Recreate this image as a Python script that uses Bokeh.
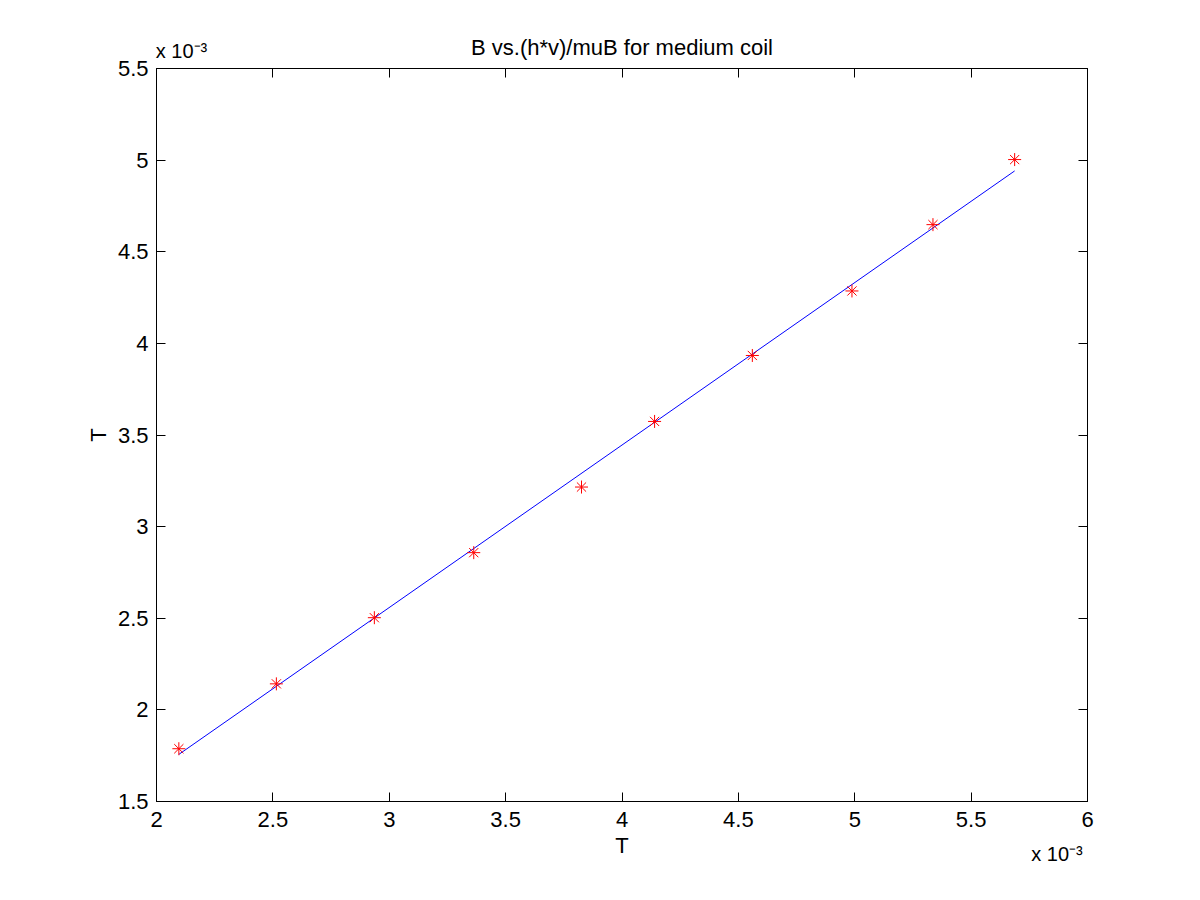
from bokeh.plotting import figure
from bokeh.models import Range1d, FixedTicker, LinearAxis, CustomJSTickFormatter
from bokeh.embed import file_html
from bokeh.resources import INLINE

# Data (values in units of 10^-3 T)
x_vals = [2.096, 2.515, 2.936, 3.363, 3.826, 4.140, 4.560, 4.988, 5.336, 5.687]
y_vals = [1.788, 2.142, 2.503, 2.858, 3.216, 3.574, 3.934, 4.286, 4.648, 5.003]
fit_x = [2.096, 5.687]
fit_y = [1.757, 4.941]

x_ticks = [2, 2.5, 3, 3.5, 4, 4.5, 5, 5.5, 6]
x_tick_labels = ["2", "2.5", "3", "3.5", "4", "4.5", "5", "5.5", "6"]
y_ticks = [1.5, 2, 2.5, 3, 3.5, 4, 4.5, 5, 5.5]
y_tick_labels = ["1.5", "2", "2.5", "3", "3.5", "4", "4.5", "5", "5.5"]

title_text = "B vs.(h*v)/muB for medium coil"
x_label = "T"
y_label = "T"
multiplier = "x 10\u207b\u00b3"
PAD_TOP = "\u00a0" * 9   # keeps the multiplier's visible text beside the axis corner
PAD_BOTTOM = "\u00a0" * 11

FONT = "Liberation Sans"
FS = "22px"

p = figure(width=1184, height=884, output_backend="svg", toolbar_location=None,
           x_range=Range1d(2, 6), y_range=Range1d(1.5, 5.5),
           min_border_left=156, min_border_right=97, min_border_top=68, min_border_bottom=83,
           background_fill_color="white", border_fill_color="white")

p.title.text = ""
p.title.standoff = 0

p.grid.visible = False
p.outline_line_color = "black"
p.outline_line_width = 1

def style_axis(ax, ticks, labels, show_labels=True):
    ax.ticker = FixedTicker(ticks=ticks)
    ax.major_label_overrides = {t: l for t, l in zip(ticks, labels)}
    ax.minor_tick_line_color = None
    ax.major_tick_in = 9
    ax.major_tick_out = 0
    ax.major_tick_line_color = "black"
    ax.axis_line_color = "black"
    ax.major_label_text_font = FONT
    ax.major_label_text_font_size = FS
    ax.major_label_text_color = "black"
    ax.major_label_standoff = 10
    ax.axis_label_text_font = FONT
    ax.axis_label_text_font_size = FS
    ax.axis_label_text_font_style = "normal"
    ax.axis_label_text_color = "black"
    if not show_labels:
        ax.formatter = CustomJSTickFormatter(code="return ''")
        ax.major_label_overrides = {}
        ax.major_label_standoff = 0
        ax.major_label_text_font_size = "1px"

style_axis(p.xaxis[0], x_ticks, x_tick_labels)
style_axis(p.yaxis[0], y_ticks, y_tick_labels)
p.xaxis[0].axis_label = x_label
p.yaxis[0].axis_label = y_label
p.xaxis[0].axis_label_standoff = 3
p.yaxis[0].major_label_standoff = 8
p.yaxis[0].axis_label_standoff = 4

# top axis: box ticks, carries the chart title
top_ax = LinearAxis()
style_axis(top_ax, x_ticks, x_tick_labels, show_labels=False)
top_ax.axis_label = title_text
top_ax.axis_label_standoff = 9
p.add_layout(top_ax, "above")

right_ax = LinearAxis()
style_axis(right_ax, y_ticks, y_tick_labels, show_labels=False)
p.add_layout(right_ax, "right")

def mult_axis(label, align, standoff, where):
    ax = LinearAxis()
    style_axis(ax, x_ticks, x_tick_labels, show_labels=False)
    ax.major_tick_in = 0
    ax.axis_line_color = None
    ax.major_tick_line_color = None
    ax.axis_label = label
    ax.axis_label_align = align
    ax.axis_label_standoff = standoff
    ax.axis_label_text_font_size = "20px"
    p.add_layout(ax, where)

mult_axis(PAD_TOP + multiplier, "start", -30, "above")
mult_axis(multiplier + PAD_BOTTOM, "end", -18, "below")

# fitted line and data
p.line(fit_x, fit_y, line_color="#0000ff", line_width=1)
p.scatter(x_vals, y_vals, marker="asterisk", size=13, line_color="#ff0000", line_width=1)

open("out.html", "w").write(file_html(p, INLINE))
